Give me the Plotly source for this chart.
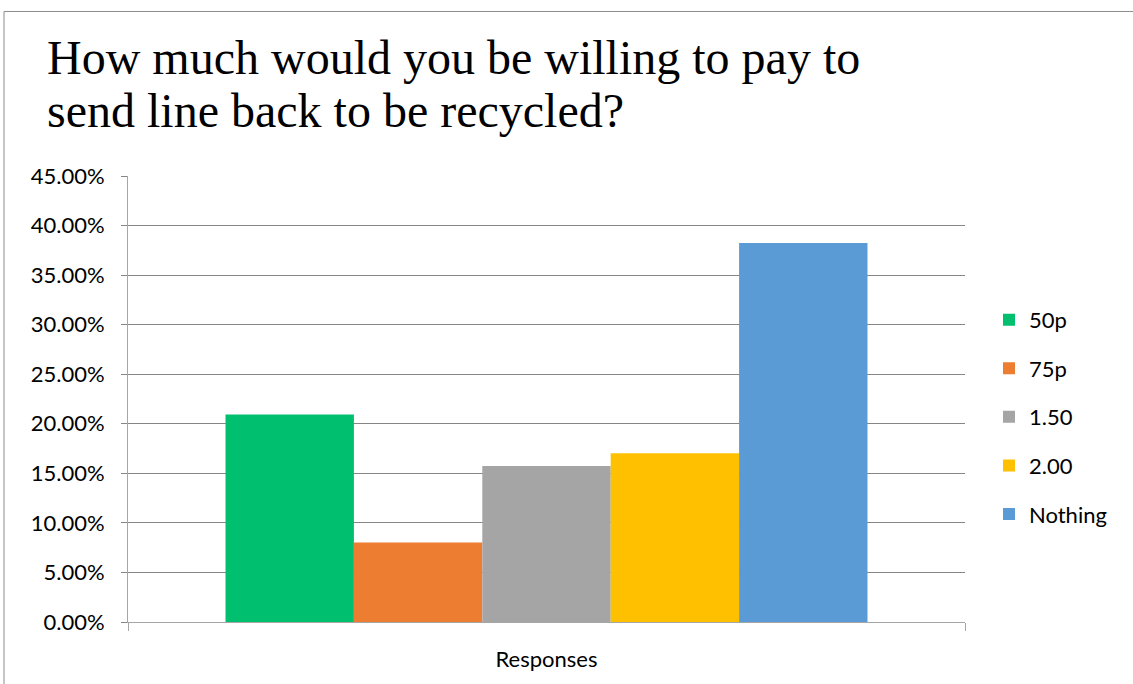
import plotly.graph_objects as go

categories = ["Responses"]
series_names = ["50p", "75p", "1.50", "2.00", "Nothing"]
series_values = [0.2093, 0.0803, 0.1573, 0.1703, 0.3823]
colors = ["#00BF6F", "#ED7D31", "#A5A5A5", "#FFC000", "#5B9BD5"]
y_tick_values = [0, 0.05, 0.10, 0.15, 0.20, 0.25, 0.30, 0.35, 0.40, 0.45]
title_lines = ["How much would you be willing to pay to", "send line back to be recycled?"]

W, H = 1133, 684
L, R, T, B = 128, 168, 176, 58
pw, ph = W - L - R, H - T - B

fig = go.Figure()
for i, (name, val, col) in enumerate(zip(series_names, series_values, colors)):
    fig.add_trace(go.Bar(x=categories, y=[val], name=name, marker=dict(color=col, line=dict(width=0)),
                         legendgroup=str(i)))

label_font = dict(family="Lato, Carlito, Calibri, sans-serif", size=22, color="#000000")

def px_x(px):
    return (px - L) / pw

def px_y(py):
    return (H - B - py) / ph

fig.update_layout(
    width=W, height=H,
    margin=dict(l=L, r=R, t=T, b=B),
    paper_bgcolor="white", plot_bgcolor="white",
    barmode="group", bargap=0.233, bargroupgap=0,
    showlegend=True,
    legend=dict(x=px_x(989), xanchor="left", y=px_y(419), yanchor="middle",
                font=label_font, tracegroupgap=17, traceorder="grouped",
                bgcolor="rgba(0,0,0,0)", itemclick=False),
    xaxis=dict(type="category", showgrid=False, showline=True, linecolor="#A6A6A6", linewidth=1,
               ticks="outside", tickson="boundaries", ticklen=8, tickcolor="#A6A6A6",
               tickfont=label_font, ticklabelstandoff=18, zeroline=False),
    yaxis=dict(range=[0, 0.45], tickvals=y_tick_values, tickformat=".2%",
               showgrid=True, gridcolor="#868686", gridwidth=1,
               showline=True, linecolor="#A6A6A6", linewidth=1,
               ticks="outside", ticklen=6, tickcolor="#868686",
               tickfont=label_font, ticklabelstandoff=12, zeroline=False),
    font=label_font,
)

title_font = dict(family="Liberation Serif, Times New Roman, serif", size=48, color="#000000")
for k, (line, base) in enumerate(zip(title_lines, [73, 127])):
    fig.add_annotation(text=line, xref="paper", yref="paper", x=px_x(45), y=px_y(base + 12),
                       xanchor="left", yanchor="bottom", showarrow=False, font=title_font)

# chart border (partially outside the visible canvas)
fig.add_shape(type="rect", xref="paper", yref="paper",
              x0=px_x(4), x1=px_x(1300), y0=px_y(900), y1=px_y(10),
              line=dict(color="#8C8C8C", width=1), fillcolor="rgba(0,0,0,0)", layer="below")

fig.write_html("out.html", config={"displayModeBar": False},
               post_script="document.body.style.margin='0';document.body.style.overflow='hidden';")
